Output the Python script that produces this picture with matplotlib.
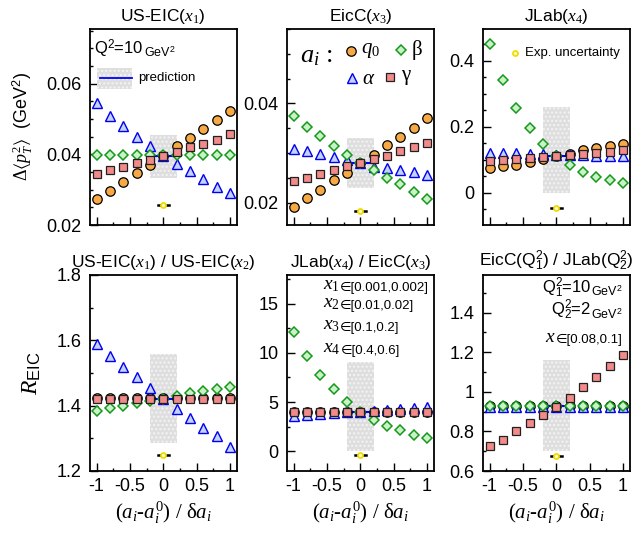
import matplotlib
matplotlib.use("Agg")
import matplotlib.pyplot as plt
from matplotlib.patches import Rectangle
from matplotlib.lines import Line2D
from matplotlib.ticker import MultipleLocator, FuncFormatter

plt.rcParams["font.family"] = ["Liberation Sans", "DejaVu Sans"]
plt.rcParams["mathtext.fontset"] = "custom"
plt.rcParams["mathtext.rm"] = "Liberation Serif"
plt.rcParams["mathtext.it"] = "Liberation Serif:italic"
plt.rcParams["mathtext.sf"] = "Liberation Sans"
plt.rcParams["mathtext.fallback"] = "stix"
plt.rcParams["axes.unicode_minus"] = False

# shift of parameter, (a_i - a_i^0) / delta a_i
x = [-1.0, -0.8, -0.6, -0.4, -0.2, 0.0, 0.2, 0.4, 0.6, 0.8, 1.0]

# --- US-EIC(x1) ---
eic1_q0 = [0.0273, 0.0297, 0.0323, 0.0347, 0.0371, 0.0395, 0.0423, 0.0445, 0.0471, 0.0497, 0.0524]
eic1_alpha = [0.0545, 0.0509, 0.0479, 0.0450, 0.0423, 0.0395, 0.0373, 0.0352, 0.0329, 0.0308, 0.0291]
eic1_beta = [0.0397, 0.0397, 0.0397, 0.0397, 0.0397, 0.0397, 0.0397, 0.0397, 0.0397, 0.0397, 0.0397]
eic1_gamma = [0.0345, 0.0355, 0.0365, 0.0375, 0.0385, 0.0395, 0.0406, 0.0420, 0.0429, 0.0442, 0.0457]

# --- EicC(x3) ---
eicc_q0 = [0.0191, 0.0210, 0.0226, 0.0245, 0.0260, 0.0280, 0.0297, 0.0316, 0.0333, 0.0350, 0.0370]
eicc_alpha = [0.0308, 0.0304, 0.0298, 0.0293, 0.0286, 0.0280, 0.0272, 0.0270, 0.0266, 0.0261, 0.0256]
eicc_beta = [0.0375, 0.0353, 0.0334, 0.0314, 0.0297, 0.0280, 0.0265, 0.0249, 0.0237, 0.0221, 0.0207]
eicc_gamma = [0.0243, 0.0250, 0.0258, 0.0265, 0.0273, 0.0280, 0.0288, 0.0295, 0.0304, 0.0312, 0.0321]

# --- JLab(x4) ---
jlab_q0 = [0.075, 0.080, 0.085, 0.092, 0.102, 0.110, 0.118, 0.129, 0.136, 0.141, 0.149]
jlab_alpha = [0.122, 0.121, 0.120, 0.119, 0.117, 0.115, 0.114, 0.113, 0.112, 0.111, 0.110]
jlab_beta = [0.452, 0.342, 0.258, 0.195, 0.148, 0.112, 0.085, 0.064, 0.049, 0.039, 0.029]
jlab_gamma = [0.097, 0.100, 0.103, 0.105, 0.108, 0.111, 0.113, 0.117, 0.120, 0.124, 0.129]

# --- R: US-EIC(x1) / US-EIC(x2) ---
r12_q0 = [1.423, 1.423, 1.423, 1.423, 1.423, 1.423, 1.423, 1.423, 1.423, 1.423, 1.423]
r12_alpha = [1.588, 1.551, 1.518, 1.487, 1.454, 1.421, 1.390, 1.361, 1.331, 1.306, 1.275]
r12_beta = [1.385, 1.393, 1.400, 1.408, 1.415, 1.421, 1.429, 1.438, 1.444, 1.451, 1.458]
r12_gamma = [1.421, 1.421, 1.421, 1.421, 1.421, 1.421, 1.421, 1.421, 1.421, 1.421, 1.421]

# --- R: JLab(x4) / EicC(x3) ---
r43_q0 = [4.0, 4.0, 4.0, 4.0, 4.0, 4.0, 4.0, 4.0, 4.0, 4.0, 4.0]
r43_alpha = [3.55, 3.65, 3.75, 3.85, 3.95, 4.0, 4.1, 4.2, 4.3, 4.38, 4.45]
r43_beta = [12.07, 9.69, 7.72, 6.36, 5.0, 4.0, 3.16, 2.59, 2.14, 1.7, 1.4]
r43_gamma = [3.98, 3.98, 3.98, 3.98, 3.98, 3.98, 3.98, 3.98, 3.98, 3.98, 3.98]

# --- R: EicC(Q1^2) / JLab(Q2^2) ---
rq_q0 = [0.928, 0.928, 0.928, 0.928, 0.928, 0.928, 0.928, 0.928, 0.928, 0.928, 0.928]
rq_alpha = [0.925, 0.925, 0.925, 0.925, 0.925, 0.925, 0.925, 0.925, 0.925, 0.925, 0.925]
rq_beta = [0.928, 0.928, 0.928, 0.928, 0.928, 0.928, 0.928, 0.928, 0.928, 0.928, 0.928]
rq_gamma = [0.725, 0.759, 0.800, 0.841, 0.882, 0.921, 0.971, 1.022, 1.075, 1.130, 1.186]

# prediction value, shaded band (low, high), exp. point for each panel
predictions = [0.0395, 0.028, 0.112, 1.421, 4.0, 0.928]
band_low = [0.0332, 0.023, 0.0, 1.287, 0.0, 0.699]
band_high = [0.0456, 0.033, 0.261, 1.557, 9.05, 1.159]
exp_points = [0.0256, 0.0183, -0.045, 1.248, -0.4, 0.677]
band_halfwidth = 0.2
exp_xerr = 0.085

titles = [
    "US-EIC($x_1$)",
    "EicC($x_3$)",
    "JLab($x_4$)",
    "US-EIC($x_1$) / US-EIC($x_2$)",
    "JLab($x_4$) / EicC($x_3$)",
    r"EicC(Q$_{\mathsf{1}}^{\mathsf{2}}$) / JLab(Q$_{\mathsf{2}}^{\mathsf{2}}$)",
]

panel_ylim = [(0.02, 0.0755), (0.0155, 0.055), (-0.098, 0.497), (1.2, 1.8), (-2.0, 17.9), (0.6, 1.59)]
panel_major = [0.02, 0.02, 0.2, 0.2, 5, 0.2]
panel_minor = [0.005, 0.005, 0.05, 0.1, 2.5, 0.1]

STYLES = {
    "q0": dict(marker="o", ms=6.8, mfc="#f7a945", mec="black", mew=0.9),
    "alpha": dict(marker="^", ms=7.6, mfc="#c4d2ff", mec="#0000f0", mew=1.0),
    "beta": dict(marker="D", ms=4.9, mfc="#caf2c8", mec="#16991a", mew=1.1),
    "gamma": dict(marker="s", ms=6.3, mfc="#f28a8a", mec="#202020", mew=0.9),
}
DRAW_ORDER = ["q0", "alpha", "beta", "gamma"]

series = [
    dict(q0=eic1_q0, alpha=eic1_alpha, beta=eic1_beta, gamma=eic1_gamma),
    dict(q0=eicc_q0, alpha=eicc_alpha, beta=eicc_beta, gamma=eicc_gamma),
    dict(q0=jlab_q0, alpha=jlab_alpha, beta=jlab_beta, gamma=jlab_gamma),
    dict(q0=r12_q0, alpha=r12_alpha, beta=r12_beta, gamma=r12_gamma),
    dict(q0=r43_q0, alpha=r43_alpha, beta=r43_beta, gamma=r43_gamma),
    dict(q0=rq_q0, alpha=rq_alpha, beta=rq_beta, gamma=rq_gamma),
]

BAND_KW = dict(facecolor="#dedede", edgecolor="#f4f4f4", hatch="....", linewidth=0)
EXP_MARK = dict(marker="o", ms=3.6, mfc="#fffbd0", mec="#f0dc00", mew=1.3)


def chain_text(ax, anchor, s, fs, side="right", **kw):
    """Put text s right after (or before) an existing text artist."""
    if side == "right":
        return ax.annotate(s, xy=(1, 0), xycoords=anchor, ha="left", va="bottom",
                           fontsize=fs, **kw)
    return ax.annotate(s, xy=(0, 0), xycoords=anchor, ha="right", va="bottom",
                       fontsize=fs, **kw)


fig = plt.figure(figsize=(6.33, 5.38), dpi=100)
W, H = 633.0, 538.0
col_left = [90, 287, 483]
col_w = 146.5
row_top = [29, 275]
row_h = 196

axes = []
for r in range(2):
    for c in range(3):
        ax = fig.add_axes([col_left[c] / W, 1 - (row_top[r] + row_h) / H, col_w / W, row_h / H])
        axes.append(ax)

for i, ax in enumerate(axes):
    d = series[i]
    ax.add_patch(Rectangle((-band_halfwidth, band_low[i]), 2 * band_halfwidth,
                           band_high[i] - band_low[i], zorder=1, **BAND_KW))
    ax.plot([-band_halfwidth, band_halfwidth], [predictions[i]] * 2, color="#0000ff",
            lw=1.5, zorder=2)
    for z, key in enumerate(DRAW_ORDER):
        ax.plot(x, d[key], linestyle="none", zorder=3 + z, clip_on=False, **STYLES[key])
    # experimental uncertainty: black bar with a small yellow ring on top
    ax.plot([-exp_xerr, exp_xerr], [exp_points[i]] * 2, color="black", lw=1.8, zorder=8)
    ax.plot([0.0], [exp_points[i]], linestyle="none", zorder=9, **EXP_MARK)

    ax.set_xlim(-1.1, 1.1)
    ax.set_ylim(*panel_ylim[i])
    ax.xaxis.set_major_locator(MultipleLocator(0.5))
    ax.xaxis.set_minor_locator(MultipleLocator(0.25))
    ax.yaxis.set_major_locator(MultipleLocator(panel_major[i]))
    ax.yaxis.set_minor_locator(MultipleLocator(panel_minor[i]))
    fmt = FuncFormatter(lambda v, p: f"{v:g}")
    ax.xaxis.set_major_formatter(fmt)
    ax.yaxis.set_major_formatter(fmt)
    ax.tick_params(which="both", direction="in", top=False, right=False, width=1.0,
                   labelsize=13)
    ax.tick_params(which="major", length=5.5)
    ax.tick_params(which="minor", length=2.5)
    ax.tick_params(axis="y", pad=6)
    ax.tick_params(axis="x", pad=5)
    for sp in ax.spines.values():
        sp.set_linewidth(1.3)
    if i < 3:
        ax.tick_params(axis="x", labelbottom=False)
    else:
        ax.set_xlabel(r"$(a_i$-$a_i^{\mathit{0}})$ / $\mathrm{\delta} a_i$", fontsize=15,
                      family="Liberation Serif", labelpad=3)
    ax.set_title(titles[i], fontsize=12.5, pad=6)

# y labels
axes[0].set_ylabel(r"$\Delta\langle p_T^2\rangle$  (GeV$^{\mathsf{2}}$)", fontsize=13,
                   labelpad=8)
axes[3].set_ylabel(r"$R_{\mathsf{EIC}}$", fontsize=17, labelpad=10)

# panel 1: Q^2 and prediction legend
ax = axes[0]
t = ax.text(0.03, 0.84, "Q$^{\\mathsf{2}}$=10", transform=ax.transAxes, fontsize=12,
            ha="left", va="bottom")
chain_text(ax, t, "GeV$^{\\mathsf{2}}$", 9)
ax.add_patch(Rectangle((0.045, 0.695), 0.245, 0.105, transform=ax.transAxes, zorder=5,
                       **BAND_KW))
ax.add_line(Line2D([0.065, 0.285], [0.748, 0.748], transform=ax.transAxes, color="#0000ff",
                   lw=1.3, zorder=6))
ax.text(0.33, 0.748, "prediction", transform=ax.transAxes, fontsize=9.5, va="center")

# panel 2: marker legend
ax = axes[1]
ax.text(0.09, 0.86, r"$a_i\,:$", transform=ax.transAxes, fontsize=19, va="center")
leg_items = [("q0", r"$q_0$", 0.435, 0.89), ("beta", r"$\mathrm{\beta}$", 0.775, 0.895),
             ("alpha", r"$\alpha$", 0.445, 0.748), ("gamma", r"$\mathrm{\gamma}$", 0.705, 0.755)]
for key, lab, lx, ly in leg_items:
    ax.plot([lx], [ly], transform=ax.transAxes, linestyle="none", clip_on=False,
            zorder=10, **STYLES[key])
    ax.text(lx + 0.07, ly, lab, transform=ax.transAxes, fontsize=15, va="center")

# panel 3: exp. uncertainty legend
ax = axes[2]
ax.plot([0.22], [0.875], transform=ax.transAxes, linestyle="none", **EXP_MARK)
ax.text(0.285, 0.875, "Exp. uncertainty", transform=ax.transAxes, fontsize=9.5,
        va="center")

# panel 5: x bins
ax = axes[4]
bin_labels = [("$x_1$", "\u2208[0.001,0.002]"), ("$x_2$", "\u2208[0.01,0.02]"),
              ("$x_3$", "\u2208[0.1,0.2]"), ("$x_4$", "\u2208[0.4,0.6]")]
bin_y = [0.905, 0.81, 0.698, 0.582]
for (xs, rng), yy in zip(bin_labels, bin_y):
    t = ax.text(0.245, yy, xs, transform=ax.transAxes, fontsize=14, ha="left", va="bottom")
    chain_text(ax, t, rng, 9.5, family=["Liberation Sans", "DejaVu Sans"])

# panel 6: Q^2 and x range
ax = axes[5]
t = ax.text(0.955, 0.875, "GeV$^{\\mathsf{2}}$", transform=ax.transAxes, fontsize=9,
            ha="right", va="bottom")
chain_text(ax, t, "Q$_{\\mathsf{1}}^{\\mathsf{2}}$=10", 12, side="left")
t = ax.text(0.955, 0.76, "GeV$^{\\mathsf{2}}$", transform=ax.transAxes, fontsize=9,
            ha="right", va="bottom")
chain_text(ax, t, "Q$_{\\mathsf{2}}^{\\mathsf{2}}$=2", 12, side="left")
t = ax.text(0.955, 0.64, "\u2208[0.08,0.1]", transform=ax.transAxes, fontsize=9.5,
            ha="right", va="bottom", family=["Liberation Sans", "DejaVu Sans"])
chain_text(ax, t, "$x$", 14, side="left")

fig.savefig("out.png", dpi=100)
